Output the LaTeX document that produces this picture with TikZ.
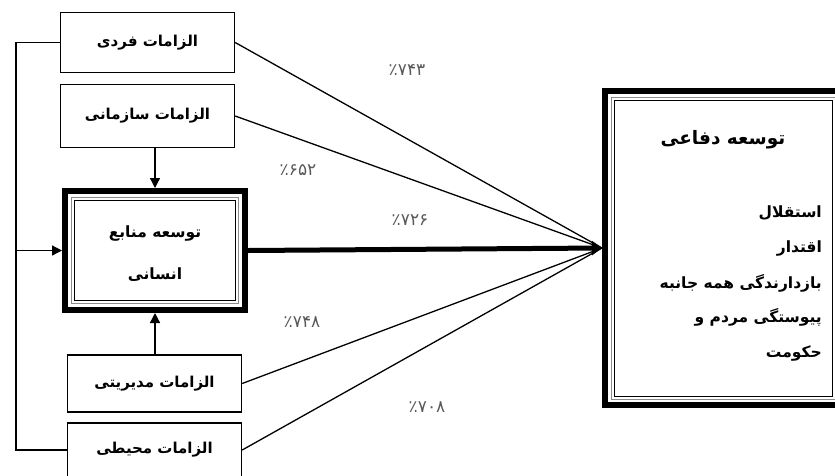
\documentclass[tikz,border=0pt]{standalone}
\usepackage{fontspec}
\newfontfamily\fa[Script=Arabic]{DejaVu Sans}
\TeXXeTstate=1
\usetikzlibrary{arrows.meta}
\tikzset{
  reqbox/.style={draw, line width=1.4pt, minimum width=174pt, inner sep=0pt,
    font=\fa\bfseries\fontsize{15}{17}\selectfont},
  bigbox/.style={draw, line width=6pt, inner sep=0pt},
  txt/.style={inner sep=0pt, font=\fa\bfseries\fontsize{15.5}{17}\selectfont},
  pct/.style={inner sep=0pt, text=black!65, font=\fa\fontsize{17}{19}\selectfont},
  thin/.style={line width=1.3pt},
  arr/.style={line width=1.3pt, -{Triangle[length=10pt,width=10pt]}},
}
\begin{document}
\begin{tikzpicture}[x=1pt,y=-1pt]
\useasboundingbox (0,0) rectangle (835,475);
% left boxes
\node[reqbox, minimum height=60pt] (b1) at (147.5,42.5) {\beginR الزامات فردی\endR};
\node[reqbox, minimum height=63pt] (b2) at (147.5,116) {\beginR الزامات سازمانی\endR};
\node[reqbox, minimum height=57pt] (b4) at (154.5,383.5) {\beginR الزامات مدیریتی\endR};
\node[reqbox, minimum height=54pt] (b5) at (154.5,450) {\beginR الزامات محیطی\endR};
% HRD box
\node[bigbox, minimum width=180pt, minimum height=119pt] (hrd) at (155,250.5) {};
\draw[line width=0.8pt, black!45] ([shift={(9.5,9.5)}]hrd.north west) rectangle ([shift={(-9.5,-9.5)}]hrd.south east);
\draw[line width=0.9pt] ([shift={(12.5,12.5)}]hrd.north west) rectangle ([shift={(-12.5,-12.5)}]hrd.south east);
\node[txt] (hrd1) at (155,233) {\beginR توسعه منابع\endR};
\node[txt] (hrd2) at (155,275) {\beginR انسانی\endR};
% defence box
\node[bigbox, minimum width=236pt, minimum height=314pt] (def) at (723,248) {};
\draw[line width=0.8pt, black!45] ([shift={(9,9)}]def.north west) rectangle ([shift={(-9,-9)}]def.south east);
\draw[line width=0.9pt] ([shift={(12,12)}]def.north west) rectangle ([shift={(-12,-12)}]def.south east);
\node[txt, font=\fa\bfseries\fontsize{18.5}{20}\selectfont] (dt) at (723,140) {\beginR توسعه دفاعی\endR};
\node[txt, anchor=east] (d1) at (822,213) {\beginR استقلال\endR};
\node[txt, anchor=east] (d2) at (822,248) {\beginR اقتدار\endR};
\node[txt, anchor=east] (d3) at (822,283) {\beginR بازدارندگی همه جانبه\endR};
\node[txt, anchor=east] (d4) at (822,317) {\beginR پیوستگی مردم و\endR};
\node[txt, anchor=east] (d5) at (822,353) {\beginR حکومت\endR};
% feedback loop
\coordinate (fbt) at (16,42.5);
\coordinate (fbb) at (16,450);
\coordinate (fbm) at (16,250.5);
\draw[thin] (b1.west) -- (fbt) -- (fbb) -- (b5.west);
\draw[arr] (fbm) -- (hrd.west);
\draw[arr] (b2.south -| hrd.north) -- (hrd.north);
\draw[arr] (b4.north -| hrd.south) -- (hrd.south);
% connectors to defence
\draw[thin] (b1.east) -- (def.west);
\draw[thin] (b2.east) -- (def.west);
\draw[thin] (b4.east) -- (def.west);
\draw[thin] (b5.east) -- (def.west);
\draw[line width=5pt, -{Triangle[length=10pt,width=14pt]}] (hrd.east) -- (def.west);
% labels
\node[pct] (p1) at (407,70) {٪۷۴۳};
\node[pct] (p2) at (298,170) {٪۶۵۲};
\node[pct] (p3) at (410,220) {٪۷۲۶};
\node[pct] (p4) at (302,322) {٪۷۴۸};
\node[pct] (p5) at (427,407) {٪۷۰۸};
\end{tikzpicture}
\end{document}
